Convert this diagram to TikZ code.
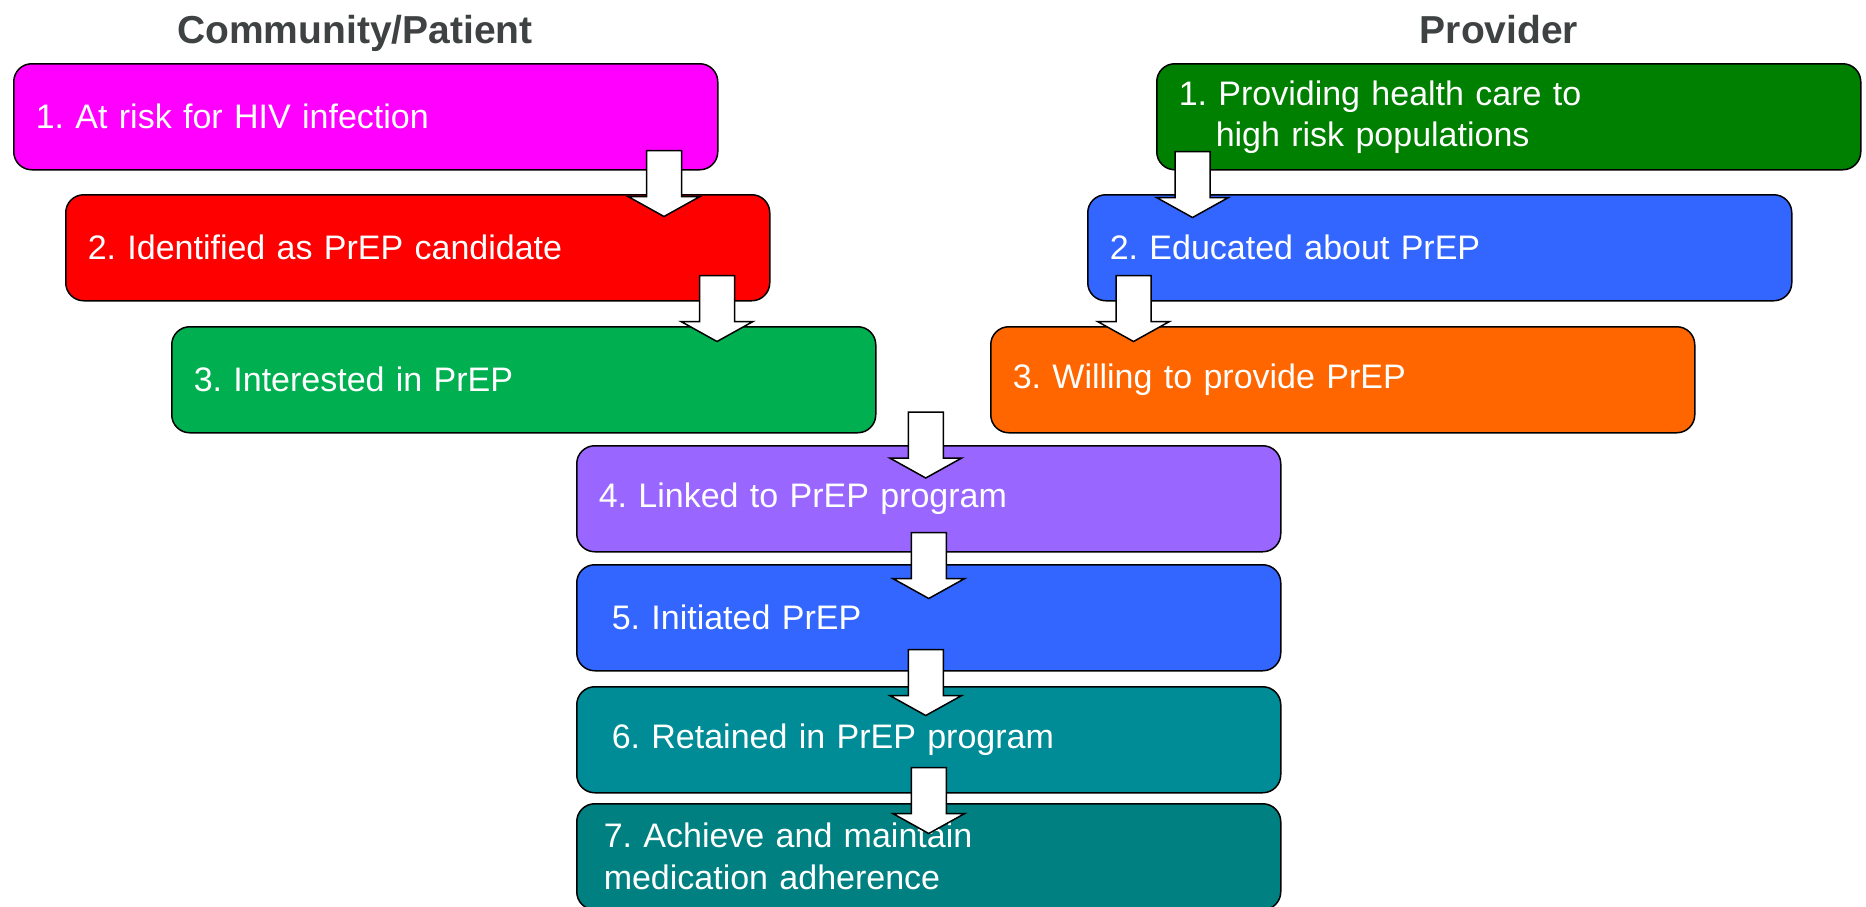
\documentclass[tikz,border=0pt]{standalone}
\usepackage{fontspec}
\setmainfont{Liberation Sans}
\usepackage{xcolor}
\usepackage{tikz}
\usetikzlibrary{calc}
\frenchspacing
\definecolor{prepMagenta}{RGB}{255,0,255}
\definecolor{prepRed}{RGB}{255,0,0}
\definecolor{prepGreen}{RGB}{0,176,80}
\definecolor{prepDarkGreen}{RGB}{0,128,0}
\definecolor{prepBlue}{RGB}{51,102,255}
\definecolor{prepOrange}{RGB}{255,102,0}
\definecolor{prepPurple}{RGB}{153,102,255}
\definecolor{prepTeal}{RGB}{0,140,150}
\definecolor{prepDarkTeal}{RGB}{0,128,128}
\definecolor{prepTitle}{RGB}{62,66,66}

\tikzset{
  stage/.style={draw=black, line width=1.5pt, rounded corners=18pt, anchor=north west,
    minimum width=704pt, minimum height=106pt, text width=660pt, inner xsep=22pt,
    align=left, text=white, font=\fontsize{34}{40}\selectfont},
  heading/.style={anchor=base, text=prepTitle, font=\bfseries\fontsize{39}{44}\selectfont},
  blockarrow/.pic={
    \draw[line width=1.5pt, fill=white, line join=miter]
      (-17.5,0) -- (17.5,0) -- (17.5,46) -- (36,46) -- (0,66) -- (-36,46) -- (-17.5,46) -- cycle;
  }
}

\begin{document}
\begin{tikzpicture}[x=1pt, y=-1pt]
    \useasboundingbox (0,0) rectangle (1866,906);

    % Column headings
    \node[heading] (hpat) at (355,43) {Community/Patient};
    \node[heading] (hprov) at (1499,43) {Provider};

    % Community/Patient side
    \node[stage, fill=prepMagenta] (pat1) at (13,63) {1. At risk for HIV infection};
    \node[stage, fill=prepRed] (pat2) at (65,194) {2. Identified as PrEP candidate};
    \node[stage, fill=prepGreen] (pat3) at (171,326) {3. Interested in PrEP};

    % Provider side
    \node[stage, fill=prepDarkGreen, font=\fontsize{34}{41}\selectfont] (prov1) at (1156,63)
        {1. Providing health care to\\\hspace*{37pt}high risk populations};
    \node[stage, fill=prepBlue] (prov2) at (1087,194) {2. Educated about PrEP};
    \node[stage, fill=prepOrange] (prov3) at (990,326) {3. Willing to provide PrEP};

    % Common steps
    \node[stage, fill=prepPurple] (link) at (576,445) {4. Linked to PrEP program};
    \node[stage, fill=prepBlue] (init) at (576,564) {\hspace*{13pt}5. Initiated PrEP};
    \node[stage, fill=prepTeal] (retain) at (576,686) {\hspace*{13pt}6. Retained in PrEP program};
    \node[stage, fill=prepDarkTeal, font=\fontsize{34}{42}\selectfont] (adhere) at (576,803)
        {\hspace*{5pt}7. Achieve and maintain\\\hspace*{5pt}medication adherence};

    % Block arrows
    \path (pat1.south west) ++(651,-20) pic {blockarrow};
    \path (pat2.south west) ++(652,-26) pic {blockarrow};
    \path (prov1.south west) ++(36.5,-19) pic {blockarrow};
    \path (prov2.south west) ++(46.5,-26) pic {blockarrow};
    \path (link.north) ++(-3,-33) pic {blockarrow};
    \path (link.south) ++(0,-20) pic {blockarrow};
    \path (init.south) ++(-3,-22) pic {blockarrow};
    \path (retain.south) ++(0,-26) pic {blockarrow};
\end{tikzpicture}
\end{document}
